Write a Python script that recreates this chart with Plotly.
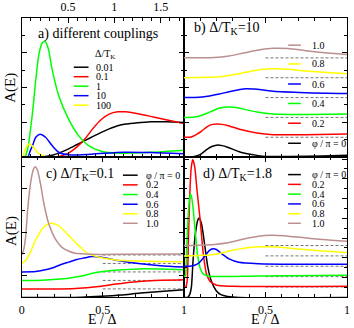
import plotly.graph_objects as go

W, H = 354, 328
FONT = "Liberation Serif"
COLS = ["#000000", "#ff0000", "#00ff00", "#0000ff", "#ffff00", "#bc8f8f"]

# ---------------- panel a : different couplings
a_labels = ["0.01", "0.1", "1", "10", "100"]
a_x_001 = [0, 0.17, 0.255, 0.329, 0.414, 0.506, 0.594, 0.682, 0.77, 0.859, 0.944, 1.036, 1.124, 1.212, 1.39, 1.566, 1.75]
a_y_001 = [0, 0, 0.03, 0.11, 0.26, 0.47, 0.71, 0.95, 1.19, 1.42, 1.62, 1.80, 1.90, 1.95, 2.03, 2.03, 1.99]
a_x_01 = [0, 0.329, 0.40, 0.506, 0.594, 0.682, 0.77, 0.859, 0.944, 1.036, 1.124, 1.283, 1.495, 1.75]
a_y_01 = [0, 0, 0.03, 0.23, 0.57, 1.04, 1.65, 2.16, 2.47, 2.60, 2.60, 2.46, 2.22, 1.93]
a_x_1 = [0, 0.032, 0.064, 0.117, 0.152, 0.188, 0.223, 0.251, 0.286, 0.329, 0.40, 0.506, 0.612, 0.718, 0.859, 1.036, 1.39, 1.75]
a_y_1 = [0, 0, 0.45, 2.56, 4.43, 5.97, 6.57, 6.65, 6.25, 5.02, 3.52, 2.18, 1.25, 0.68, 0.34, 0.23, 0.28, 0.40]
a_x_10 = [0, 0.064, 0.095, 0.117, 0.152, 0.198, 0.258, 0.329, 0.40, 0.506, 0.753, 1.10, 1.39, 1.75]
a_y_10 = [0, 0, 0.40, 0.66, 1.14, 1.32, 1.14, 0.66, 0.28, 0.13, 0.17, 0.28, 0.26, 0.19]
a_x_100 = [0, 0.011, 0.032, 0.053, 0.082, 0.117, 0.17, 0.223, 0.276, 1.75]
a_y_100 = [0, 0, 0.34, 0.63, 0.76, 0.63, 0.28, 0.09, 0, 0]
a_top_ticks = [0.5, 1, 1.5]

# ---------------- panels b, c, d : phase series (x = E / Delta)
phi_labels = ["φ / π = 0", "0.2", "0.4", "0.6", "0.8", "1.0"]

b_offsets = [0, 1.14, 2.28, 3.42, 4.56, 5.70]
b_x = [
    [0, 0.048, 0.078, 0.107, 0.146, 0.175, 0.207, 0.235, 0.267, 0.348, 0.448, 0.508, 0.649, 0.849, 1.0],
    [0, 0.036, 0.056, 0.078, 0.107, 0.146, 0.175, 0.207, 0.235, 0.267, 0.348, 0.448, 0.548, 0.747, 1.0],
    [0, 0.066, 0.107, 0.146, 0.187, 0.229, 0.267, 0.307, 0.348, 0.448, 0.548, 0.747, 1.0],
    [0, 0.096, 0.157, 0.217, 0.277, 0.337, 0.380, 0.428, 0.488, 0.548, 0.747, 1.0],
    [0, 0.157, 0.247, 0.337, 0.428, 0.488, 0.548, 0.639, 0.747, 0.880, 1.0],
    [0, 0.187, 0.277, 0.367, 0.458, 0.548, 0.639, 0.747, 0.880, 1.0],
]
b_y = [
    [0, 0, 0.06, 0.19, 0.47, 0.62, 0.70, 0.66, 0.57, 0.28, 0.10, 0.04, 0.04, 0.06, 0.10],
    [0, 0, 0.06, 0.17, 0.34, 0.63, 0.74, 0.76, 0.74, 0.68, 0.44, 0.24, 0.15, 0.15, 0.19],
    [0, 0.02, 0.11, 0.26, 0.43, 0.55, 0.60, 0.59, 0.51, 0.31, 0.20, 0.17, 0.19],
    [0, 0.02, 0.09, 0.20, 0.34, 0.45, 0.51, 0.49, 0.43, 0.36, 0.28, 0.23],
    [0, 0.02, 0.09, 0.23, 0.40, 0.48, 0.51, 0.48, 0.38, 0.30, 0.23],
    [0, 0.02, 0.11, 0.28, 0.45, 0.55, 0.54, 0.41, 0.28, 0.19],
]

c_offsets = [0, 0.39, 0.78, 1.17, 1.56, 1.95]
c_x = [
    [0, 0.248, 0.370, 0.491, 0.612, 0.733, 0.855, 1.0],
    [0, 0.188, 0.309, 0.40, 0.491, 0.582, 0.691, 0.794, 1.0],
    [0, 0.127, 0.218, 0.289, 0.370, 0.430, 0.491, 0.592, 0.733, 0.855, 1.0],
    [0, 0.085, 0.139, 0.188, 0.236, 0.289, 0.339, 0.390, 0.430, 0.491, 0.592, 0.733, 0.855, 1.0],
    [0, 0.024, 0.047, 0.067, 0.087, 0.107, 0.127, 0.147, 0.176, 0.2, 0.228, 0.255, 0.289, 0.350, 0.410, 0.491, 0.592, 0.794, 1.0],
    [0, 0.012, 0.024, 0.036, 0.048, 0.061, 0.073, 0.083, 0.097, 0.117, 0.138, 0.168, 0.208, 0.248, 0.289, 0.329, 0.430, 0.612, 1.0],
]
c_y = [
    [0, 0, 0.01, 0.05, 0.11, 0.20, 0.27, 0.35],
    [0, 0, 0.01, 0.05, 0.12, 0.22, 0.32, 0.38, 0.42],
    [0, 0.01, 0.05, 0.10, 0.20, 0.32, 0.40, 0.48, 0.53, 0.52, 0.49],
    [0, 0.02, 0.09, 0.18, 0.32, 0.45, 0.57, 0.65, 0.71, 0.68, 0.53, 0.38, 0.29, 0.23],
    [0, 0.14, 0.41, 0.76, 1.09, 1.36, 1.59, 1.74, 1.85, 1.83, 1.74, 1.55, 1.29, 0.83, 0.45, 0.26, 0.15, 0.10, 0.08],
    [0, 0.23, 0.82, 2.0, 2.91, 3.59, 3.95, 4.06, 3.91, 3.23, 2.32, 1.41, 0.73, 0.35, 0.18, 0.08, 0.03, 0.03, 0.05],
]

d_offsets = [0, 1.05, 2.1, 3.15, 4.2, 5.25]
d_x = [
    [0, 0.024, 0.036, 0.046, 0.056, 0.070, 0.086, 0.093, 0.107, 0.127, 0.147, 0.167, 0.197, 0.227, 0.267, 0.337, 1.0],
    [0, 0.012, 0.020, 0.028, 0.036, 0.044, 0.054, 0.066, 0.080, 0.101, 0.120, 0.140, 0.161, 0.201, 0.301, 1.0],
    [0, 0.009, 0.016, 0.024, 0.033, 0.040, 0.048, 0.056, 0.070, 0.084, 0.101, 0.120, 0.157, 0.458, 1.0],
    [0, 0.036, 0.066, 0.096, 0.127, 0.157, 0.178, 0.199, 0.229, 0.277, 0.337, 0.458, 0.699, 1.0],
    [0, 0.096, 0.157, 0.217, 0.307, 0.398, 0.488, 0.578, 0.699, 0.849, 1.0],
    [0, 0.096, 0.187, 0.277, 0.367, 0.458, 0.530, 0.608, 0.699, 0.849, 1.0],
]
d_y = [
    [0, 0, 0.3, 1.03, 3.7, 6.37, 7.87, 8.03, 7.53, 5.37, 3.03, 1.7, 0.7, 0.27, 0.1, 0, 0],
    [0, 0.05, 0.6, 4.9, 9.2, 11.9, 12.9, 12.2, 9.9, 6.57, 3.2, 1.23, 0.57, 0.17, 0.07, 0.07],
    [0, 0.1, 2.2, 5.5, 7.6, 8.4, 8.0, 7.0, 4.5, 2.2, 0.8, 0.25, 0.05, 0.07, 0.13],
    [0, 0, 0.1, 0.4, 1.0, 1.6, 1.77, 1.7, 1.3, 0.75, 0.4, 0.25, 0.2, 0.2],
    [0, 0.05, 0.1, 0.25, 0.6, 0.85, 0.93, 0.9, 0.7, 0.5, 0.35],
    [0, 0.03, 0.1, 0.3, 0.65, 0.93, 1.03, 1.0, 0.85, 0.6, 0.43],
]
c_ticks = [0, 0.5, 1]
d_ticks = [0.5, 1]

# ---------------- layout helpers (pixel -> paper)
def px(x):
    return x / W

def py(y):
    return 1 - y / H

XL, XM, XR = 19, 184, 350
YT, YM, YB = 14, 155, 297

fig = go.Figure()

def line(xs, ys, col, xa, ya, dash=None, width=1.5, shape="spline"):
    fig.add_trace(go.Scatter(x=xs, y=ys, mode="lines", xaxis=xa, yaxis=ya,
                             line=dict(color=col, width=width, dash=dash, shape=shape,
                                       smoothing=0.7 if shape == "spline" else None),
                             showlegend=False, hoverinfo="skip"))

# panel a
a_series = [(a_x_001, a_y_001), (a_x_01, a_y_01), (a_x_1, a_y_1), (a_x_10, a_y_10), (a_x_100, a_y_100)]
for i, (xs, ys) in enumerate(a_series):
    line(xs, ys, COLS[i], "x", "y")

# panels b, c, d
def stacked(xs_l, ys_l, offs, xa, ya):
    for k in range(1, len(offs)):
        line([0.5, 1.0], [offs[k], offs[k]], "#777777", xa, ya, dash="3px,2px", width=1, shape="linear")
    for k in range(len(offs)):
        line(xs_l[k], [v + offs[k] for v in ys_l[k]], COLS[k], xa, ya)

stacked(b_x, b_y, b_offsets, "x2", "y2")
stacked(c_x, c_y, c_offsets, "x3", "y3")
stacked(d_x, d_y, d_offsets, "x4", "y4")

tickfont = dict(family=FONT, size=12, color="black")
common = dict(showline=True, linecolor="black", linewidth=1, mirror="allticks",
              ticks="inside", ticklen=5, tickcolor="black", showgrid=False, zeroline=False,
              tickfont=tickfont, fixedrange=True)
minor_x = dict(dtick=0.1, ticklen=3, ticks="inside", tickcolor="black")
minor_y = dict(dtick=1, ticklen=3, ticks="inside", tickcolor="black")

dx1 = [px(XL), px(XM)]
dx2 = [px(XM), px(XR)]
dyt = [py(YM), py(YT)]
dyb = [py(YB), py(YM)]

fig.update_layout(
    width=W, height=H, margin=dict(l=0, r=0, t=0, b=0),
    paper_bgcolor="white", plot_bgcolor="white", showlegend=False,
    font=dict(family=FONT, color="black"),
    xaxis=dict(domain=dx1, anchor="y", range=[0, 1.75], side="top", tickvals=a_top_ticks,
               ticktext=[f"{v:g}" for v in a_top_ticks], ticklabelstandoff=1, minor=minor_x, **common),
    yaxis=dict(domain=dyt, anchor="x", range=[0, 8], dtick=2, showticklabels=False,
               minor=minor_y, **common),
    xaxis2=dict(domain=dx2, anchor="y2", range=[0, 1], dtick=0.5, showticklabels=False,
                minor=minor_x, **common),
    yaxis2=dict(domain=dyt, anchor="x2", range=[0, 8], dtick=2, showticklabels=False,
                minor=minor_y, **common),
    xaxis3=dict(domain=dx1, anchor="y3", range=[0, 1], tickvals=c_ticks,
                ticktext=[f"{v:g}" for v in c_ticks], ticklabelstandoff=1, minor=minor_x, **common),
    yaxis3=dict(domain=dyb, anchor="x3", range=[0, 6.45], tick0=1, dtick=2, showticklabels=False,
                minor=minor_y, **common),
    xaxis4=dict(domain=dx2, anchor="y4", range=[0, 1], tickvals=d_ticks,
                ticktext=[f"{v:g}" for v in d_ticks], ticklabelstandoff=1, minor=minor_x, **common),
    yaxis4=dict(domain=dyb, anchor="x4", range=[0, 14.2], dtick=2, showticklabels=False,
                minor=minor_y, **common),
)

ann = []
shapes = []

def text(x, y, s, size, xanchor="left", angle=0):
    ann.append(dict(x=px(x), y=py(y), xref="paper", yref="paper", text=s, showarrow=False,
                    xanchor=xanchor, yanchor="middle", textangle=angle,
                    font=dict(family=FONT, size=size, color="black")))

# panel titles
text(34, 30, "a) different couplings", 14)
text(192, 25, "b) Δ/T<sub>K</sub>=10", 14)
text(42, 173, "c) Δ/T<sub>K</sub>=0.1", 14)
text(201, 173, "d) Δ/T<sub>K</sub>=1.8", 14)

# axis titles
text(8, 85, "A(E)", 15, xanchor="center", angle=-90)
text(8, 230, "A(E)", 15, xanchor="center", angle=-90)
text(101, 319, "E / Δ", 14, xanchor="center")
text(267, 319, "E / Δ", 14, xanchor="center")

# legends
def legend(x0, x1, xt, rows, labels, cols):
    for r, lab, col in zip(rows, labels, cols):
        shapes.append(dict(type="line", xref="paper", yref="paper", x0=px(x0), x1=px(x1),
                           y0=py(r), y1=py(r), line=dict(color=col, width=1.5)))
        text(xt, r, lab, 10)

text(92, 51, "Δ/T<sub>K</sub>", 10)
legend(72, 87, 93, [64, 73.6, 83.2, 92.8, 102.4], a_labels, COLS[:5])
legend(290, 303, 312, [141, 120.7, 100.7, 81, 60.7, 41.7], phi_labels, COLS)
legend(122, 137, 143, [173.3, 183.1, 192.9, 202.7, 212.4, 222], phi_labels, COLS)
legend(290, 303, 312, [172.7, 182.6, 192.5, 202.4, 212.3, 222], phi_labels, COLS)

fig.update_layout(annotations=ann, shapes=shapes)
fig.write_html("out.html", config={"staticPlot": True, "displayModeBar": False},
               post_script="document.body.style.margin='0';document.body.style.padding='0';")
